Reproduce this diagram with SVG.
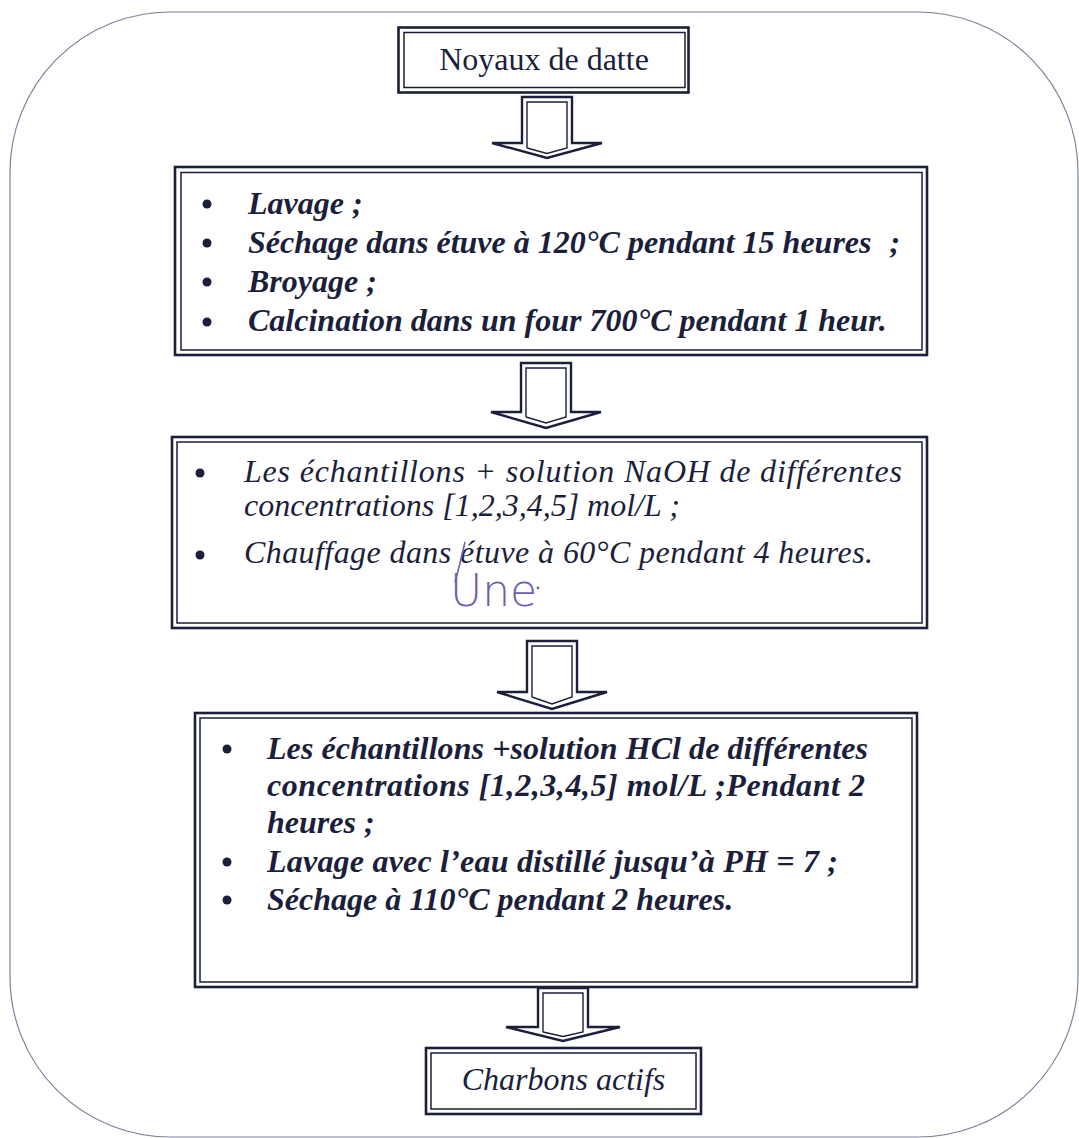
<svg xmlns="http://www.w3.org/2000/svg" width="1079" height="1138" viewBox="0 0 1079 1138">
<style>
.frame{fill:none;stroke:#7c809a;stroke-width:1.2}
.bo{fill:none;stroke:#1b1f3b;stroke-width:2.6}
.bi{fill:none;stroke:#1b1f3b;stroke-width:1.5}
.ao{fill:#fff;stroke:#1b1f3b;stroke-width:2.4;stroke-linejoin:miter}
.ai{fill:none;stroke:#1b1f3b;stroke-width:1.4}
.t{font-family:"Liberation Serif","Times New Roman",serif;font-size:32px;fill:#1b1f3b}
.bi-t{font-style:italic;font-weight:bold}
.it{font-style:italic}
.dot{fill:#1b1f3b}
.hand{font-family:"DejaVu Sans","Liberation Sans",sans-serif;font-weight:200;font-size:44px;fill:#6a60b5}
</style>
<rect class="frame" x="10" y="12" width="1068" height="1125" rx="160" ry="160"/>

<g id="connectors">
  <g id="arrow1">
    <polygon class="ao" points="522,97 572,97 572,143 602,143 547,158 492,143 522,143"/>
    <polyline class="ai" points="527,148 527,102 567,102 567,148 547,153.5 527,148"/>
  </g>
  <g id="arrow2">
    <polygon class="ao" points="521,363 571,363 571,412 601,412 546,428 491,412 521,412"/>
    <polyline class="ai" points="526,417 526,368 566,368 566,417 546,423 526,417"/>
  </g>
  <g id="arrow3">
    <polygon class="ao" points="527,641 577,641 577,692 607,692 552,709 497,692 527,692"/>
    <polyline class="ai" points="532,697 532,646 572,646 572,697 552,704 532,697"/>
  </g>
  <g id="arrow4">
    <polygon class="ao" points="538,988 588,988 588,1027 620,1027 563,1041 506,1027 538,1027"/>
    <polyline class="ai" points="543,1032 543,993 583,993 583,1032 563,1036.5 543,1032"/>
  </g>
</g>

<g id="node-noyaux">
  <rect class="bo" x="398.5" y="27.5" width="290" height="65"/>
  <rect class="bi" x="404" y="32.5" width="281" height="55"/>
  <text class="t" x="544" y="70" text-anchor="middle">Noyaux de datte</text>
</g>

<g id="node-pretraitement">
  <rect class="bo" x="175" y="167" width="752" height="188"/>
  <rect class="bi" x="181" y="172.5" width="741" height="177.5"/>
  <circle class="dot" cx="207" cy="204" r="4.5"/>
  <circle class="dot" cx="207" cy="243" r="4.5"/>
  <circle class="dot" cx="207" cy="282" r="4.5"/>
  <circle class="dot" cx="207" cy="322" r="4.5"/>
  <text class="t bi-t" x="248" y="214">Lavage ;</text>
  <text class="t bi-t" x="248" y="253">Séchage dans étuve à 120°C pendant 15 heures <tspan dx="10">;</tspan></text>
  <text class="t bi-t" x="248" y="292">Broyage ;</text>
  <text class="t bi-t" x="248" y="331">Calcination dans un four 700°C pendant 1 heur.</text>
</g>

<g id="node-naoh">
  <rect class="bo" x="172" y="437" width="755" height="191"/>
  <rect class="bi" x="177" y="442" width="745" height="181"/>
  <circle class="dot" cx="200" cy="473" r="4.5"/>
  <circle class="dot" cx="200" cy="555" r="4.5"/>
  <text class="t it" x="244" y="482" textLength="658" lengthAdjust="spacing">Les échantillons + solution NaOH de différentes</text>
  <text class="t it" x="244" y="516">concentrations [1,2,3,4,5] mol/L ;</text>
  <text class="t it" x="244" y="563" textLength="629" lengthAdjust="spacing">Chauffage dans étuve à 60°C pendant 4 heures.</text>
  <path d="M465,542 C462,555 459,568 455,582" fill="none" stroke="#6a60b5" stroke-width="1.6"/>
  <text class="hand" x="450" y="606">Une</text>
  <circle cx="538" cy="588" r="1.4" fill="#6a60b5"/>
</g>

<g id="node-hcl">
  <rect class="bo" x="195" y="713" width="722" height="274"/>
  <rect class="bi" x="200" y="718" width="712" height="264"/>
  <circle class="dot" cx="227" cy="749" r="4.5"/>
  <circle class="dot" cx="227" cy="862" r="4.5"/>
  <circle class="dot" cx="227" cy="900" r="4.5"/>
  <text class="t bi-t" x="267" y="759" textLength="601" lengthAdjust="spacing">Les échantillons +solution HCl de différentes</text>
  <text class="t bi-t" x="267" y="796" textLength="598" lengthAdjust="spacing">concentrations [1,2,3,4,5] mol/L ;Pendant 2</text>
  <text class="t bi-t" x="267" y="833">heures ;</text>
  <text class="t bi-t" x="267" y="872" textLength="571" lengthAdjust="spacing">Lavage avec l’eau distillé jusqu’à PH = 7 ;</text>
  <text class="t bi-t" x="267" y="910">Séchage à 110°C pendant 2 heures.</text>
</g>

<g id="node-charbons">
  <rect class="bo" x="426" y="1048" width="275" height="66"/>
  <rect class="bi" x="431" y="1053" width="265" height="56"/>
  <text class="t it" x="563.5" y="1090" text-anchor="middle">Charbons actifs</text>
</g>
</svg>
